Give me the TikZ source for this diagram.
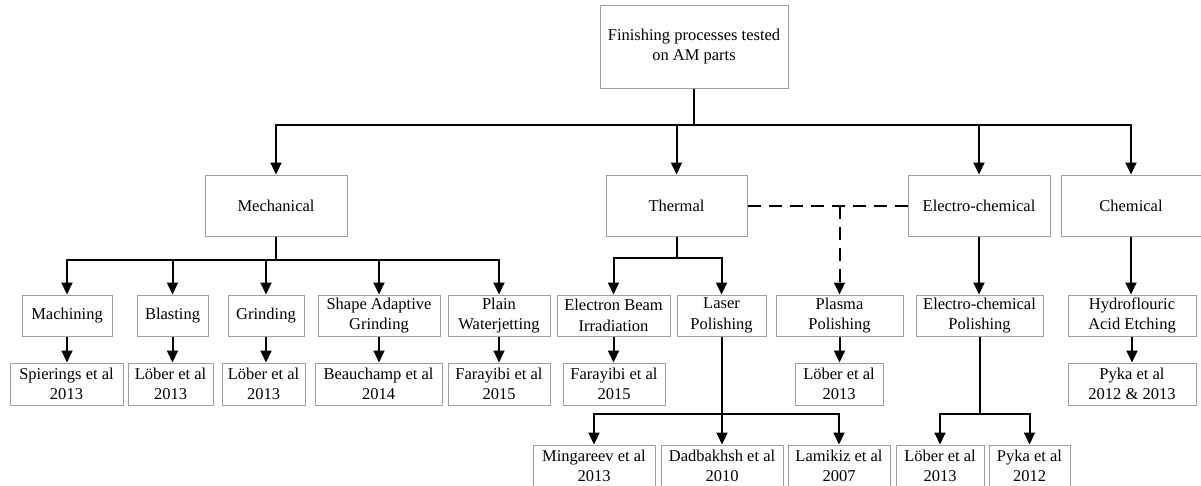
\documentclass[tikz,border=0pt]{standalone}
\usepackage{fontspec}
\setmainfont{Liberation Serif}
\usetikzlibrary{arrows.meta,shadows}
\begin{document}
\begin{tikzpicture}[
    x=1pt, y=-1pt,
    box/.style={
        rectangle,
        draw=gray!75,
        line width=1pt,
        fill=white,
        drop shadow={shadow xshift=1.2pt, shadow yshift=-1.2pt, fill=gray!50, opacity=0.5},
        align=center,
        inner sep=0pt,
        font=\fontsize{16.5}{20.5}\selectfont
    },
    group/.style={
        box,
        minimum height=61pt
    },
    process/.style={
        box,
        minimum height=41pt
    },
    ref/.style={
        box,
        minimum height=42pt
    },
    link/.style={
        draw=black,
        line width=2pt,
        -{Triangle[length=12pt,width=11pt]}
    },
    dashlink/.style={
        link,
        dash pattern=on 13pt off 8pt
    }
]
\useasboundingbox (0,0) rectangle (1201,485);

% Root
\node[box, minimum width=188pt, minimum height=83pt] (root) at (694,46.5)
    {Finishing processes tested\\on AM parts};

% Groups
\node[group, minimum width=142pt] (mech) at (276,205.5) {Mechanical};
\node[group, minimum width=141pt] (therm) at (676.5,205.5) {Thermal};
\node[group, minimum width=142pt] (echem) at (979,205.5) {Electro-chemical};
\node[group, minimum width=140pt] (chem) at (1131,205.5) {Chemical};

% Processes
\node[process, minimum width=90pt] (mach) at (67,315.5) {Machining};
\node[process, minimum width=71pt] (blast) at (172.5,315.5) {Blasting};
\node[process, minimum width=76pt] (grind) at (266,315.5) {Grinding};
\node[process, minimum width=122pt] (sag) at (379,315.5) {Shape Adaptive\\Grinding};
\node[process, minimum width=102pt] (water) at (499,315.5) {Plain\\Waterjetting};
\node[process, minimum width=113pt] (ebi) at (613.5,315.5) {Electron Beam\\Irradiation};
\node[process, minimum width=89pt] (laser) at (721.5,315.5) {Laser\\Polishing};
\node[process, minimum width=127pt] (plasma) at (839.5,315.5) {Plasma\\Polishing};
\node[process, minimum width=127pt] (ecp) at (979.5,315.5) {Electro-chemical\\Polishing};
\node[process, minimum width=128pt] (hfe) at (1132,315.5) {Hydroflouric\\Acid Etching};

% References
\node[ref, minimum width=113pt] (spier) at (66.5,384) {Spierings et al\\2013};
\node[ref, minimum width=85pt] (lob1) at (170.5,384) {Löber et al\\2013};
\node[ref, minimum width=83pt] (lob2) at (263.5,384) {Löber et al\\2013};
\node[ref, minimum width=127pt] (beau) at (378.5,384) {Beauchamp et al\\2014};
\node[ref, minimum width=102pt] (fara1) at (499,384) {Farayibi et al\\2015};
\node[ref, minimum width=102pt] (fara2) at (614,384) {Farayibi et al\\2015};
\node[ref, minimum width=88pt] (lob3) at (839,384) {Löber et al\\2013};
\node[ref, minimum width=128pt] (pyka1) at (1132,384) {Pyka et al\\2012 \& 2013};

\node[ref, minimum width=122pt] (ming) at (594,466) {Mingareev et al\\2013};
\node[ref, minimum width=122pt] (dad) at (722,466) {Dadbakhsh et al\\2010};
\node[ref, minimum width=102pt] (lam) at (839,466) {Lamikiz et al\\2007};
\node[ref, minimum width=88pt] (lob4) at (940,466) {Löber et al\\2013};
\node[ref, minimum width=81pt] (pyka2) at (1029.5,466) {Pyka et al\\2012};

% Connections
\foreach \c in {mech,therm,echem,chem}
    \draw[link] (root.south) -- ++(0,36) -| (\c.north);

\foreach \c in {mach,blast,grind,sag,water}
    \draw[link] (mech.south) -- ++(0,23) -| (\c.north);

\foreach \c in {ebi,laser}
    \draw[link] (therm.south) -- ++(0,21) -| (\c.north);

\foreach \c in {ming,dad,lam}
    \draw[link] (laser.south) -- ++(0,77) -| (\c.north);

\foreach \c in {lob4,pyka2}
    \draw[link] (ecp.south) -- ++(0,77) -| (\c.north);

\foreach \a/\b in {echem/ecp,chem/hfe,mach/spier,blast/lob1,grind/lob2,
    sag/beau,water/fara1,ebi/fara2,plasma/lob3,hfe/pyka1}
    \draw[link] (\a.south) -- (\a.south |- \b.north);

% Dashed link
\coordinate (dj) at (plasma.north |- therm.east);
\draw[dashlink, -] (therm.east) -- (echem.west);
\draw[dashlink] (dj) -- (plasma.north);

\end{tikzpicture}
\end{document}
